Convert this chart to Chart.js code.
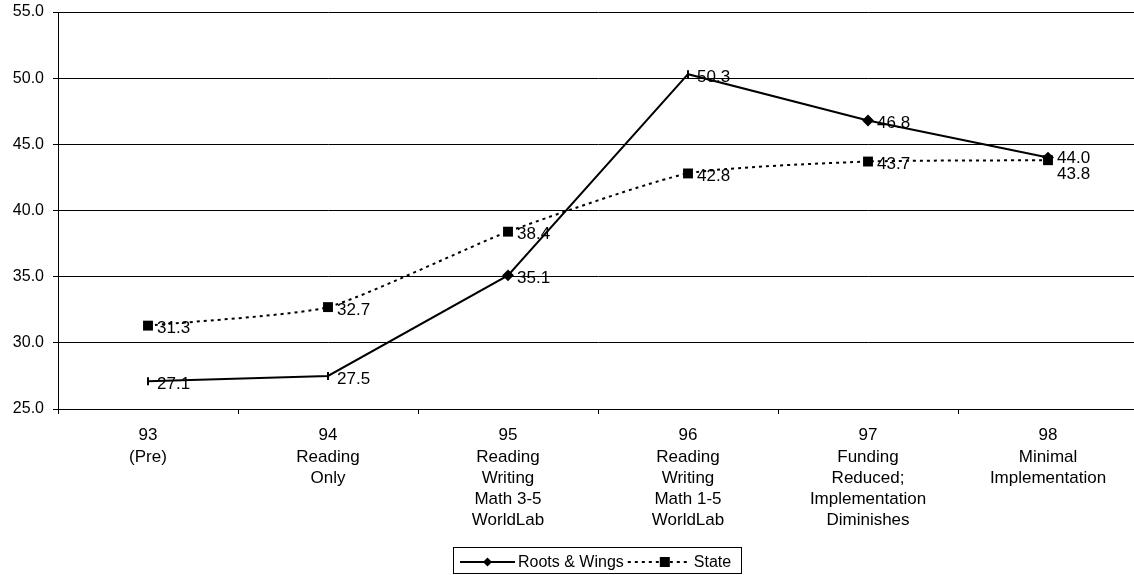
<!DOCTYPE html>
<html><head><meta charset="utf-8">
<script src="https://cdn.jsdelivr.net/npm/chart.js@4/dist/chart.umd.min.js"></script>
<style>
html,body{margin:0;padding:0;overflow:hidden;background:#fff;width:1134px;height:575px}
#c{position:absolute;left:0;top:0}
</style>
</head><body><canvas id="c" width="1140" height="575" style="width:1140px;height:575px"></canvas>
<script>
// ---- data ----
const categories = [
  ["93","(Pre)"],
  ["94","Reading","Only"],
  ["95","Reading","Writing","Math 3-5","WorldLab"],
  ["96","Reading","Writing","Math 1-5","WorldLab"],
  ["97","Funding","Reduced;","Implementation","Diminishes"],
  ["98","Minimal","Implementation"]
];
const seriesNames = ["Roots & Wings", "State"];
const rootsWings = [27.1, 27.5, 35.1, 50.3, 46.8, 44.0];
const stateVals  = [31.3, 32.7, 38.4, 42.8, 43.7, 43.8];
const yMin = 25, yMax = 55, yStep = 5;

// ---- styles ----
const FONT = "'Liberation Sans', Arial, Helvetica, sans-serif";
const rwPointStyles = ['line','line','rectRot','line','rectRot','rectRot'];
const rwRotations   = [90, 90, 0, 90, 0, 0];
const rwRadii       = [4, 4, 4.5, 4, 4.5, 4.5];

const labelPlugin = {
  id: 'valueLabels',
  afterDatasetsDraw(chart) {
    const ctx = chart.ctx;
    ctx.save();
    ctx.font = '17px ' + FONT;
    ctx.fillStyle = '#000';
    ctx.textBaseline = 'middle';
    ctx.textAlign = 'left';
    const metas = chart.data.datasets.map((d, i) => chart.getDatasetMeta(i));
    const n = chart.data.labels.length;
    for (let j = 0; j < n; j++) {
      const items = metas.map((m, i) => ({
        x: m.data[j].x, y: m.data[j].y + 3,
        v: chart.data.datasets[i].data[j]
      }));
      if (items.length === 2 && Math.abs(items[0].y - items[1].y) < 15) {
        const hi = items[0].v >= items[1].v ? items[0] : items[1];
        const lo = hi === items[0] ? items[1] : items[0];
        hi.y -= 2;
        lo.y = hi.y + 16;
      }
      items.forEach(it => ctx.fillText(it.v.toFixed(1), it.x + 9, it.y));
    }
    ctx.restore();
  }
};

function drawMarker(ctx, style, x, y, r) {
  ctx.beginPath();
  if (style === 'rectRot') {
    ctx.moveTo(x, y - r); ctx.lineTo(x + r, y); ctx.lineTo(x, y + r); ctx.lineTo(x - r, y);
    ctx.closePath(); ctx.fill();
  } else if (style === 'rect') {
    ctx.rect(x - r, y - r, 2 * r, 2 * r); ctx.fill();
  }
}

const legendPlugin = {
  id: 'boxLegend',
  afterDraw(chart) {
    const ctx = chart.ctx;
    ctx.save();
    ctx.font = '16px ' + FONT;
    const w1 = ctx.measureText(seriesNames[0]).width;
    const w2 = ctx.measureText(seriesNames[1]).width;
    const pad = 7, s1 = 55, s2 = 62, g = 3, g2 = 4;
    const total = pad + s1 + g + w1 + g2 + s2 + g2 + w2 + pad + 3;
    const cx = 597, cy = 562;
    let x = Math.round(cx - total / 2);
    ctx.strokeStyle = '#000'; ctx.lineWidth = 1;
    ctx.strokeRect(x + 0.5, cy - 14.5, Math.round(total), 26);
    ctx.fillStyle = '#000';
    ctx.textBaseline = 'middle';
    let px = x + pad;
    ctx.lineWidth = 2; ctx.setLineDash([]);
    ctx.beginPath(); ctx.moveTo(px, cy); ctx.lineTo(px + s1, cy); ctx.stroke();
    drawMarker(ctx, 'rectRot', px + s1 / 2, cy, 4.5);
    px += s1 + g;
    ctx.fillText(seriesNames[0], px, cy + 1);
    px += w1 + g2;
    ctx.setLineDash([3, 4]);
    ctx.beginPath(); ctx.moveTo(px, cy); ctx.lineTo(px + s2, cy); ctx.stroke();
    ctx.setLineDash([]);
    drawMarker(ctx, 'rect', px + s2 / 2 + 6, cy, 5);
    px += s2 + g2;
    ctx.fillText(seriesNames[1], px, cy + 1);
    ctx.restore();
  }
};

function zeroPad(s) { s.paddingTop = 0; s.paddingBottom = 0; s.paddingLeft = 0; s.paddingRight = 0; }

new Chart(document.getElementById('c'), {
  type: 'line',
  data: {
    labels: categories,
    datasets: [
      {
        label: seriesNames[0],
        data: rootsWings,
        borderColor: '#000',
        backgroundColor: '#000',
        borderWidth: 2,
        tension: 0,
        pointStyle: rwPointStyles,
        rotation: rwRotations,
        pointRadius: rwRadii,
        pointBorderWidth: 2,
        pointBorderColor: '#000',
        pointBackgroundColor: '#000'
      },
      {
        label: seriesNames[1],
        data: stateVals,
        borderColor: '#000',
        backgroundColor: '#000',
        borderWidth: 2,
        borderDash: [3, 4],
        tension: 0.18,
        pointStyle: 'rect',
        pointRadius: 7,
        pointBorderWidth: 0,
        pointBackgroundColor: '#000'
      }
    ]
  },
  options: {
    responsive: false,
    animation: false,
    devicePixelRatio: 1,
    layout: { autoPadding: false, padding: { top: 12, right: 2, left: 0, bottom: 0 } },
    plugins: { legend: { display: false }, tooltip: { enabled: false } },
    scales: {
      x: {
        offset: true,
        grid: { offset: true, drawOnChartArea: false, drawTicks: true, tickLength: 5, color: '#000' },
        border: { color: '#000', width: 1 },
        ticks: {
          color: '#000', autoSkip: false, maxRotation: 0, padding: 11,
          font: { family: FONT, size: 17, lineHeight: 1.25 }
        },
        afterFit(s) { s.height = 166; zeroPad(s); }
      },
      y: {
        min: yMin, max: yMax,
        grid: { color: '#000', tickLength: 5 },
        border: { color: '#000', width: 1 },
        ticks: {
          stepSize: yStep, color: '#000', padding: 9,
          font: { family: FONT, size: 16 },
          callback: v => Number(v).toFixed(1)
        },
        afterFit(s) { s.width = 58; zeroPad(s); }
      }
    }
  },
  plugins: [labelPlugin, legendPlugin]
});
</script>
</body></html>
